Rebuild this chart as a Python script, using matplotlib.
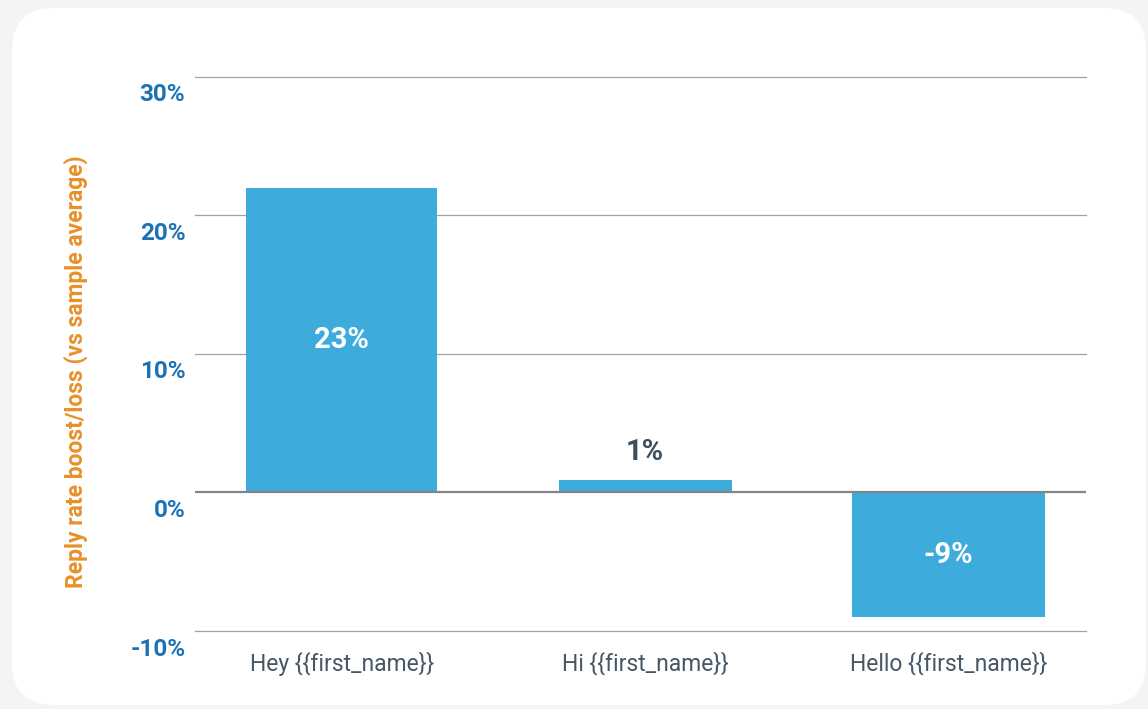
import matplotlib
matplotlib.use('Agg')
import matplotlib.pyplot as plt
import matplotlib.transforms as mtrans
from matplotlib.patches import FancyBboxPatch

# data
categories = ['Hey {{first_name}}', 'Hi {{first_name}}', 'Hello {{first_name}}']
values = [22.0, 0.9, -9.0]
value_labels = ['23%', '1%', '-9%']
yticks = [-10, 0, 10, 20, 30]
ytick_labels = ['-10%', '0%', '10%', '20%', '30%']
ylabel = 'Reply rate boost/loss (vs sample average)'

bar_color = '#3DACDC'
tick_blue = '#1B72B5'
label_orange = '#E8912A'
text_gray = '#465766'

plt.rcParams['font.family'] = ['Roboto', 'DejaVu Sans']

W, H = 1148, 709
fig = plt.figure(figsize=(W / 100, H / 100), dpi=100)
fig.patch.set_facecolor('#F3F4F4')

# white rounded card behind the chart
bg = fig.add_axes([0, 0, 1, 1], zorder=0)
bg.set_xlim(0, W)
bg.set_ylim(H, 0)
bg.axis('off')
card = FancyBboxPatch((12, 8), 1134, 697, boxstyle='round,pad=0,rounding_size=42',
                      facecolor='white', edgecolor='none')
bg.add_patch(card)

ax = fig.add_axes([195 / W, 1 - 631 / H, (1086 - 195) / W, (631 - 77) / H], zorder=1)
ax.set_facecolor('none')

x = list(range(len(categories)))
widths = [0.63, 0.57, 0.635]
ax.bar(x, values, width=widths, color=bar_color, zorder=2)

ax.set_xlim(-0.483, 2.453)
ax.set_ylim(-10, 30)
for yv in yticks:
    if yv == 0:
        continue
    ax.axhline(yv, color='#A3A3A3', linewidth=0.9, zorder=1, clip_on=False)
ax.axhline(0, color='#858585', linewidth=1.6, zorder=3)

for sp in ax.spines.values():
    sp.set_visible(False)

ax.set_yticks(yticks)
ax.set_yticklabels(ytick_labels)
ax.tick_params(axis='y', length=0, pad=7, labelsize=17.5, labelcolor=tick_blue)
offset = mtrans.ScaledTranslation(0, -0.155, fig.dpi_scale_trans)
for lab in ax.get_yticklabels():
    lab.set_fontweight('bold')
    lab.set_transform(lab.get_transform() + offset)

ax.set_xticks(x)
ax.set_xticklabels(categories)
ax.tick_params(axis='x', length=0, pad=15, labelsize=16.5, labelcolor=text_gray)

for xi, v, lab in zip(x, values, value_labels):
    if abs(v) > 3:
        ax.text(xi, v / 2, lab, ha='center', va='center', color='white',
                fontsize=21, fontweight='bold', zorder=4)
    else:
        ax.text(xi, v + 2.0, lab, ha='center', va='center', color='#3F4E5B',
                fontsize=21, fontweight='bold', zorder=4)

fig.text(76 / W, 1 - 372 / H, ylabel, rotation=90, ha='center', va='center',
         color=label_orange, fontsize=16.5, fontweight='bold')

fig.savefig('out.png', dpi=100, facecolor=fig.get_facecolor())
